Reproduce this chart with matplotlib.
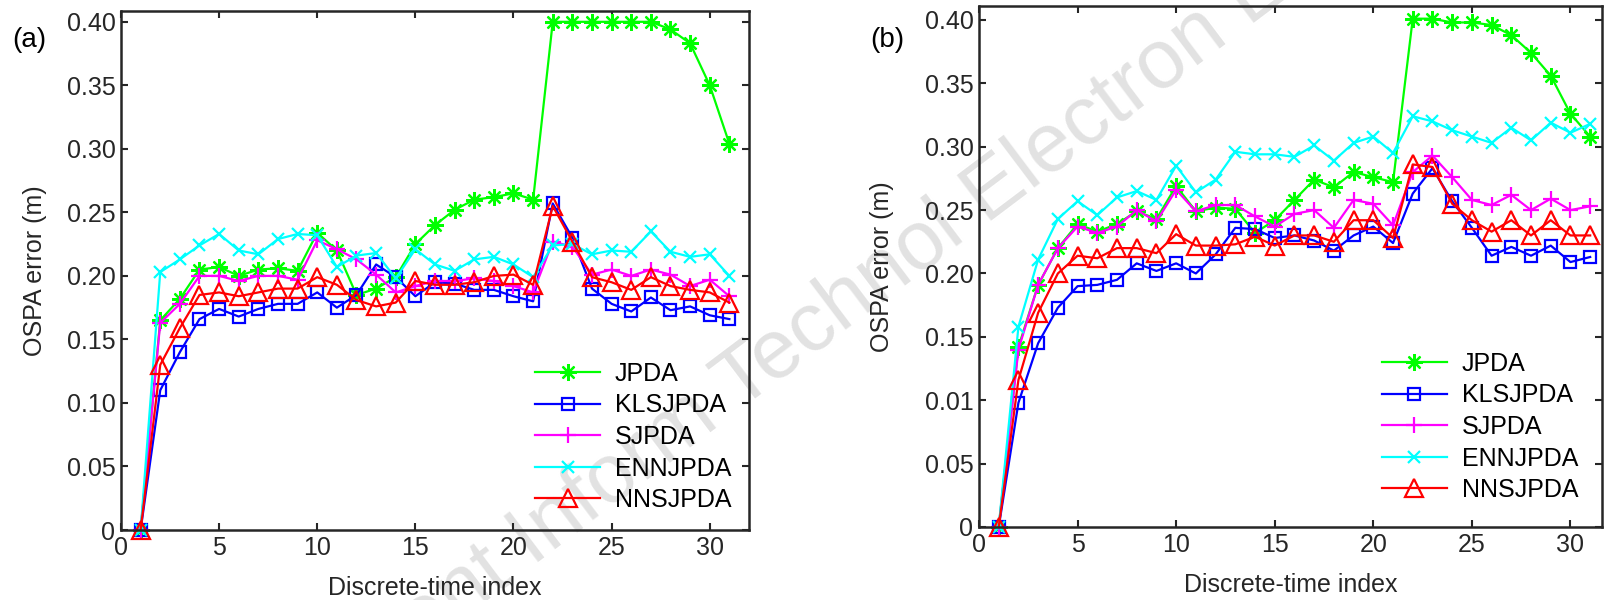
import matplotlib

matplotlib.use("Agg")
import matplotlib.pyplot as plt

plt.rcParams["font.family"] = ["Liberation Sans", "DejaVu Sans"]

t = list(range(1, 32))
names = ["JPDA", "KLSJPDA", "SJPDA", "ENNJPDA", "NNSJPDA"]

# panel (a)
jpda_a = [0, 0.165, 0.182, 0.205, 0.207, 0.200, 0.205, 0.206, 0.204, 0.234, 0.220,
          0.185, 0.190, 0.199, 0.225, 0.240, 0.252, 0.260, 0.262, 0.265, 0.260,
          0.400, 0.400, 0.400, 0.400, 0.400, 0.400, 0.394, 0.383, 0.350, 0.304]
kls_a = [0, 0.110, 0.140, 0.166, 0.174, 0.168, 0.174, 0.178, 0.178, 0.187, 0.175,
         0.185, 0.209, 0.199, 0.184, 0.195, 0.194, 0.189, 0.189, 0.184, 0.180,
         0.257, 0.230, 0.190, 0.178, 0.172, 0.183, 0.173, 0.176, 0.169, 0.166]
sj_a = [0, 0.163, 0.178, 0.200, 0.200, 0.196, 0.200, 0.200, 0.197, 0.228, 0.221,
        0.213, 0.201, 0.187, 0.192, 0.196, 0.196, 0.198, 0.196, 0.192, 0.187,
        0.227, 0.223, 0.201, 0.205, 0.200, 0.205, 0.201, 0.192, 0.197, 0.184]
enn_a = [0, 0.203, 0.213, 0.224, 0.233, 0.220, 0.217, 0.229, 0.233, 0.232, 0.207,
         0.216, 0.218, 0.198, 0.221, 0.209, 0.204, 0.213, 0.215, 0.209, 0.199,
         0.224, 0.225, 0.217, 0.220, 0.219, 0.235, 0.219, 0.215, 0.217, 0.200]
nns_a = [0, 0.130, 0.159, 0.185, 0.187, 0.184, 0.187, 0.190, 0.190, 0.199, 0.193,
         0.181, 0.176, 0.179, 0.196, 0.193, 0.193, 0.195, 0.200, 0.201, 0.193,
         0.255, 0.227, 0.199, 0.195, 0.189, 0.199, 0.192, 0.189, 0.187, 0.179]

# panel (b)
jpda_b = [0, 0.142, 0.191, 0.220, 0.239, 0.233, 0.239, 0.249, 0.243, 0.269, 0.249,
          0.252, 0.251, 0.232, 0.242, 0.258, 0.274, 0.268, 0.280, 0.276, 0.272,
          0.401, 0.401, 0.398, 0.398, 0.396, 0.388, 0.374, 0.356, 0.326, 0.308]
kls_b = [0, 0.098, 0.145, 0.173, 0.190, 0.191, 0.195, 0.208, 0.202, 0.208, 0.200,
         0.215, 0.236, 0.235, 0.228, 0.230, 0.226, 0.218, 0.230, 0.237, 0.224,
         0.263, 0.283, 0.257, 0.236, 0.214, 0.221, 0.214, 0.222, 0.209, 0.213]
sj_b = [0, 0.140, 0.191, 0.220, 0.237, 0.232, 0.237, 0.250, 0.241, 0.266, 0.249,
        0.254, 0.254, 0.245, 0.237, 0.247, 0.250, 0.236, 0.258, 0.255, 0.238,
        0.280, 0.293, 0.276, 0.258, 0.254, 0.262, 0.250, 0.259, 0.250, 0.253]
enn_b = [0, 0.158, 0.211, 0.243, 0.257, 0.246, 0.260, 0.265, 0.258, 0.285, 0.264,
         0.274, 0.296, 0.294, 0.294, 0.292, 0.301, 0.289, 0.303, 0.308, 0.295,
         0.324, 0.320, 0.313, 0.308, 0.303, 0.315, 0.305, 0.319, 0.311, 0.318]
nns_b = [0, 0.116, 0.169, 0.200, 0.214, 0.212, 0.220, 0.220, 0.216, 0.231, 0.222,
         0.222, 0.223, 0.229, 0.222, 0.230, 0.230, 0.225, 0.242, 0.242, 0.228,
         0.286, 0.284, 0.255, 0.242, 0.233, 0.242, 0.230, 0.242, 0.230, 0.230]

xticks = [0, 5, 10, 15, 20, 25, 30]
yticks = [0, 0.05, 0.10, 0.15, 0.20, 0.25, 0.30, 0.35, 0.40]
ylabels_a = ["0", "0.05", "0.10", "0.15", "0.20", "0.25", "0.30", "0.35", "0.40"]
ylabels_b = ["0", "0.05", "0.01", "0.15", "0.20", "0.25", "0.30", "0.35", "0.40"]

styles = [
    dict(color="#00ff00", marker=(8, 2, 0), ms=12, mew=1.6),
    dict(color="#0000ff", marker="s", ms=8.5, mfc="none", mew=1.6),
    dict(color="#ff00ff", marker="+", ms=12, mew=1.6),
    dict(color="#00ffff", marker="x", ms=9, mew=1.6),
    dict(color="#ff0000", marker="^", ms=13, mfc="none", mew=1.6),
]

W, H = 1608, 600
fig = plt.figure(figsize=(W / 100, H / 100), dpi=100, facecolor="white")
ax_a = fig.add_axes([121 / W, 1 - 530 / H, (749 - 121) / W, (530 - 11) / H])
ax_b = fig.add_axes([979 / W, 1 - 527 / H, (1602 - 979) / W, (527 - 6) / H])

panels = [
    (ax_a, [jpda_a, kls_a, sj_a, enn_a, nns_a], ylabels_a, (0, 32), 0.4085, "(a)", 535, 362, 14),
    (ax_b, [jpda_b, kls_b, sj_b, enn_b, nns_b], ylabels_b, (0, 31.6), 0.411, "(b)", 1382, 352, 22),
]
fs = 18
frame = "#262626"
for ax, series, ylabs, xlim, ytop, tag, lx, ly, ypad in panels:
    ax.patch.set_alpha(0)
    for name, vals, st in zip(names, series, styles):
        ax.plot(t, vals, lw=1.6, label=name, clip_on=False, **st)
    ax.set_xlim(*xlim)
    ax.set_ylim(0, ytop)
    ax.set_xticks(xticks)
    ax.set_yticks(yticks)
    ax.set_yticklabels(ylabs)
    ax.tick_params(direction="in", top=True, right=True, length=5, width=1.5,
                   labelsize=fs, colors=frame, labelcolor="#262626", pad=4)
    for sp in ax.spines.values():
        sp.set_linewidth(1.8)
        sp.set_color(frame)
    ax.set_xlabel("Discrete-time index", fontsize=fs, color="#262626", labelpad=12)
    ax.set_ylabel("OSPA error (m)", fontsize=fs, color="#262626", labelpad=ypad)
    ax.legend(loc="upper left", bbox_to_anchor=(lx / W, 1 - ly / H),
              bbox_transform=fig.transFigure, frameon=False, fontsize=fs,
              borderpad=0, borderaxespad=0, handlelength=2.6, handletextpad=0.6,
              labelspacing=0.3)
    x0 = ax.get_position().x0
    fig.text(x0 - 92 / W, 1 - 40 / H, tag, fontsize=fs + 2, ha="center", va="center")

# journal watermark
fig.text(850 / W, 1 - 300 / H, "Front Inform Technol Electron Eng", fontsize=60,
         color="#e2e2e2", rotation=37, ha="center", va="center", zorder=-1)

fig.savefig("out.png", dpi=100, facecolor="white")
